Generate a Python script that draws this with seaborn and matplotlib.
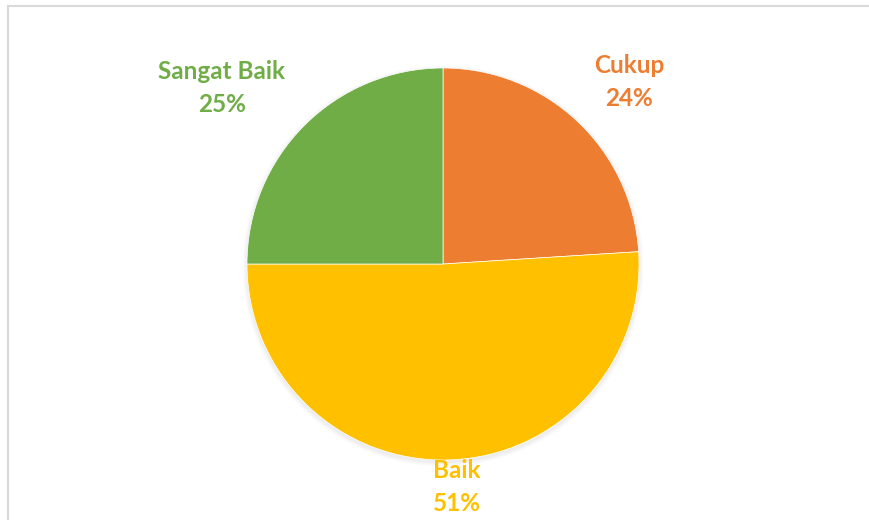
import matplotlib
matplotlib.use("Agg")
import matplotlib.pyplot as plt
import seaborn as sns
from matplotlib.patches import Rectangle, Circle

# Category shares, drawn clockwise from 12 o'clock
categories = ["Cukup", "Baik", "Sangat Baik"]
shares = [24, 51, 25]
colors = ["#ED7D31", "#FFC000", "#70AD47"]

# Label anchor points (canvas pixels, y measured from top)
label_pos = {"Cukup": (629, 82), "Baik": (457, 487), "Sangat Baik": (222, 88)}

sns.set_theme(style="white")
plt.rcParams["font.family"] = ["Lato", "DejaVu Sans"]

W, H = 869, 520
fig = plt.figure(figsize=(W / 100, H / 100), dpi=100)
ax = fig.add_axes([0, 0, 1, 1])

# Chart area border
ax.add_patch(Rectangle((8, -20), W + 20, H - 6 + 20, fill=False,
                       edgecolor="#D9D9D9", linewidth=1.5))

cx, cy, r = 443, H - 264, 196

# Soft shadow around the pie
for i in range(6):
    ax.add_patch(Circle((cx, cy - 2), r + 0.5 + i * 0.8, facecolor="black",
                        edgecolor="none", alpha=0.012, zorder=1))

ax.pie(shares, colors=colors, startangle=90, counterclock=False,
       center=(cx, cy), radius=r, frame=True,
       wedgeprops=dict(linewidth=0.5, edgecolor="white", zorder=2))
ax.set_xlim(0, W)
ax.set_ylim(0, H)
ax.set_aspect("equal")
ax.axis("off")

for cat, val, col in zip(categories, shares, colors):
    x, y = label_pos[cat]
    ax.text(x, H - y, f"{cat}\n{val}%", color=col, fontsize=17.5,
            fontweight="bold", ha="center", va="center", linespacing=1.55)

fig.savefig("out.png", dpi=100)
